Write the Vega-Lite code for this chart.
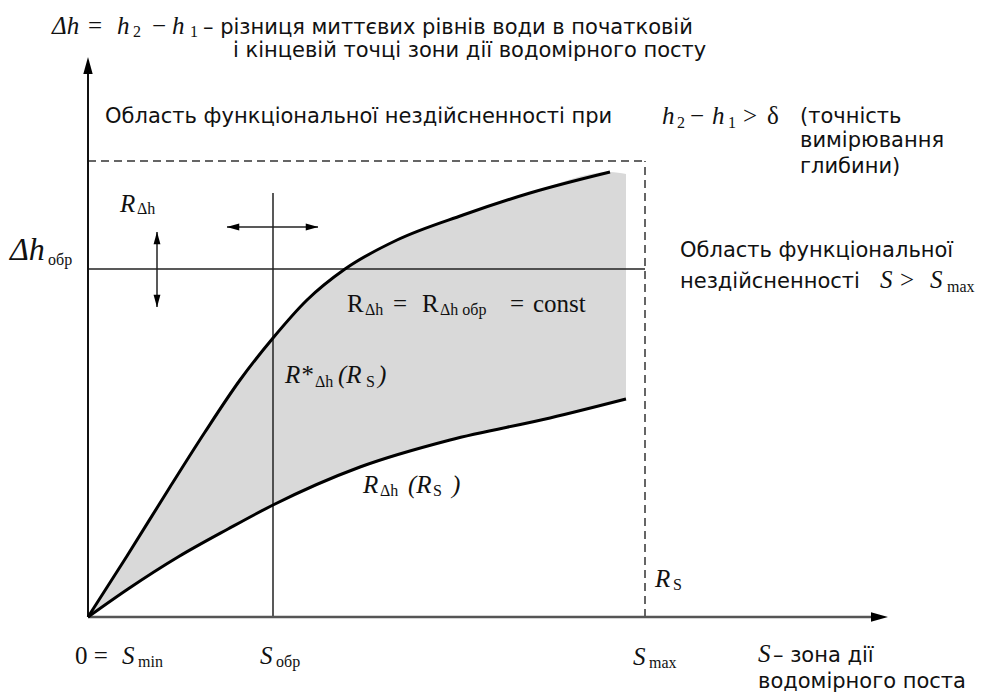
{
  "$schema": "https://vega.github.io/schema/vega-lite/v6.json",
  "width": 997,
  "height": 695,
  "padding": 0,
  "autosize": {"type": "fit", "contains": "padding"},
  "background": "white",
  "config": {"view": {"stroke": null}},
  "datasets": {
    "band": [
      {"x": 0, "y": 0, "y2": 0}, {"x": 39, "y": 61, "y2": 27}, {"x": 82, "y": 130, "y2": 55},
      {"x": 117, "y": 185, "y2": 75}, {"x": 152, "y": 237, "y2": 94}, {"x": 185, "y": 279, "y2": 112},
      {"x": 219, "y": 317, "y2": 127}, {"x": 257, "y": 348, "y2": 143}, {"x": 309, "y": 377, "y2": 161},
      {"x": 375, "y": 402, "y2": 180}, {"x": 442, "y": 424, "y2": 195}, {"x": 522, "y": 445, "y2": 214},
      {"x": 538, "y": 443, "y2": 218}
    ],
    "upper": [
      {"x": 0, "y": 0}, {"x": 39, "y": 61}, {"x": 82, "y": 130}, {"x": 117, "y": 185}, {"x": 152, "y": 237},
      {"x": 185, "y": 279}, {"x": 219, "y": 317}, {"x": 257, "y": 348}, {"x": 309, "y": 377},
      {"x": 375, "y": 402}, {"x": 442, "y": 424}, {"x": 522, "y": 445}
    ],
    "lower": [
      {"x": 0, "y": 0}, {"x": 40, "y": 28}, {"x": 90, "y": 60}, {"x": 140, "y": 88}, {"x": 185, "y": 112},
      {"x": 272, "y": 150}, {"x": 362, "y": 177}, {"x": 462, "y": 199}, {"x": 538, "y": 218}
    ],
    "axisY": [{"x": 0, "y": 0, "x2": 0, "y2": 548}],
    "axisX": [{"x": 0, "y": 0, "x2": 784, "y2": 0}],
    "guides": [
      {"x": 0, "y": 348, "x2": 557, "y2": 348},
      {"x": 185, "y": 0, "x2": 185, "y2": 424},
      {"x": 69, "y": 310, "x2": 69, "y2": 385},
      {"x": 139, "y": 390, "x2": 230, "y2": 390}
    ],
    "dashed": [
      {"x": 0, "y": 456, "x2": 557, "y2": 456},
      {"x": 557, "y": 0, "x2": 557, "y2": 456}
    ],
    "bigHeads": [
      {"x": 0, "y": 551.5, "dir": 0},
      {"x": 791.5, "y": 0, "dir": 90}
    ],
    "smallHeads": [
      {"x": 69, "y": 379, "dir": 0},
      {"x": 69, "y": 316, "dir": 180},
      {"x": 145, "y": 390, "dir": 270},
      {"x": 224, "y": 390, "dir": 90}
    ],
    "italicLarge": [
      {"x": -78, "y": 357, "text": "Δh"}
    ],
    "italic": [
      {"x": -36, "y": 583, "text": "Δh"},
      {"x": 29, "y": 583, "text": "h"},
      {"x": 84, "y": 583, "text": "h"},
      {"x": 574, "y": 493, "text": "h"},
      {"x": 624, "y": 493, "text": "h"},
      {"x": 32, "y": 405, "text": "R"},
      {"x": 792, "y": 329, "text": "S"},
      {"x": 842, "y": 329, "text": "S"},
      {"x": 197, "y": 234, "text": "R*"},
      {"x": 250, "y": 234, "text": "(R"},
      {"x": 290, "y": 234, "text": ")"},
      {"x": 275, "y": 124, "text": "R"},
      {"x": 320, "y": 124, "text": "(R"},
      {"x": 364, "y": 124, "text": ")"},
      {"x": 567, "y": 30, "text": "R"},
      {"x": 34, "y": -47, "text": "S"},
      {"x": 172, "y": -47, "text": "S"},
      {"x": 545, "y": -48, "text": "S"},
      {"x": 670, "y": -45, "text": "S"}
    ],
    "upright": [
      {"x": 0, "y": 583, "text": "="},
      {"x": 64, "y": 583, "text": "−"},
      {"x": 602, "y": 493, "text": "−"},
      {"x": 655, "y": 493, "text": ">"},
      {"x": 679, "y": 493, "text": "δ"},
      {"x": 812, "y": 329, "text": ">"},
      {"x": 259, "y": 305, "text": "R"},
      {"x": 305, "y": 305, "text": "="},
      {"x": 334, "y": 305, "text": "R"},
      {"x": 422, "y": 305, "text": "="},
      {"x": 445, "y": 305, "text": "const"},
      {"x": -13, "y": -47, "text": "0 ="}
    ],
    "subs": [
      {"x": 45, "y": 580, "text": "2"},
      {"x": 102, "y": 580, "text": "1"},
      {"x": 589, "y": 489, "text": "2"},
      {"x": 640, "y": 489, "text": "1"},
      {"x": -40, "y": 352, "text": "обр"},
      {"x": 49, "y": 403, "text": "Δh"},
      {"x": 859, "y": 325, "text": "max"},
      {"x": 277, "y": 302, "text": "Δh"},
      {"x": 352, "y": 302, "text": "Δh обр"},
      {"x": 227, "y": 230, "text": "Δh"},
      {"x": 278, "y": 230, "text": "S"},
      {"x": 292, "y": 121, "text": "Δh"},
      {"x": 345, "y": 121, "text": "S"},
      {"x": 585, "y": 27, "text": "S"},
      {"x": 50, "y": -50, "text": "min"},
      {"x": 188, "y": -50, "text": "обр"},
      {"x": 561, "y": -51, "text": "max"}
    ],
    "body": [
      {"x": 115, "y": 583, "text": "– різниця миттєвих рівнів води в початковій"},
      {"x": 145, "y": 560, "text": "і кінцевій точці зони дії водомірного посту"},
      {"x": 17, "y": 494, "text": "Область функціональної нездійсненності при"},
      {"x": 712, "y": 494, "text": "(точність"},
      {"x": 712, "y": 470, "text": "вимірювання"},
      {"x": 712, "y": 444, "text": "глибини)"},
      {"x": 592, "y": 360, "text": "Область функціональної"},
      {"x": 592, "y": 329, "text": "нездійсненності"},
      {"x": 685, "y": -45, "text": "– зона дії"},
      {"x": 670, "y": -71, "text": "водомірного поста"}
    ]
  },
  "encoding": {
    "x": {"field": "x", "type": "quantitative", "scale": {"domain": [-88, 909], "nice": false, "zero": false}, "axis": null},
    "y": {"field": "y", "type": "quantitative", "scale": {"domain": [-78, 617], "nice": false, "zero": false}, "axis": null}
  },
  "layer": [
    {
      "data": {"name": "band"},
      "mark": {"type": "area", "color": "#d9d9d9", "interpolate": "monotone"},
      "encoding": {"y2": {"field": "y2"}}
    },
    {
      "data": {"name": "dashed"},
      "mark": {"type": "rule", "color": "#333333", "strokeWidth": 1.5, "strokeDash": [8, 5]},
      "encoding": {"x2": {"field": "x2"}, "y2": {"field": "y2"}}
    },
    {
      "data": {"name": "guides"},
      "mark": {"type": "rule", "color": "#222222", "strokeWidth": 1.5},
      "encoding": {"x2": {"field": "x2"}, "y2": {"field": "y2"}}
    },
    {
      "data": {"name": "axisY"},
      "mark": {"type": "rule", "color": "#111111", "strokeWidth": 2},
      "encoding": {"x2": {"field": "x2"}, "y2": {"field": "y2"}}
    },
    {
      "data": {"name": "axisX"},
      "mark": {"type": "rule", "color": "#555555", "strokeWidth": 2.6},
      "encoding": {"x2": {"field": "x2"}, "y2": {"field": "y2"}}
    },
    {
      "data": {"name": "upper"},
      "mark": {"type": "line", "color": "#000000", "strokeWidth": 3, "interpolate": "monotone"}
    },
    {
      "data": {"name": "lower"},
      "mark": {"type": "line", "color": "#000000", "strokeWidth": 3, "interpolate": "monotone"}
    },
    {
      "data": {"name": "bigHeads"},
      "mark": {"type": "point", "shape": "M0,-1L0.55,1L-0.55,1Z", "filled": true, "color": "#000000", "opacity": 1, "size": 289, "strokeWidth": 0},
      "encoding": {"angle": {"field": "dir", "type": "quantitative", "scale": null}}
    },
    {
      "data": {"name": "smallHeads"},
      "mark": {"type": "point", "shape": "M0,-1L0.55,1L-0.55,1Z", "filled": true, "color": "#000000", "opacity": 1, "size": 156, "strokeWidth": 0},
      "encoding": {"angle": {"field": "dir", "type": "quantitative", "scale": null}}
    },
    {
      "data": {"name": "italicLarge"},
      "mark": {"type": "text", "align": "left", "baseline": "alphabetic", "font": "Liberation Serif", "fontStyle": "italic", "fontSize": 32, "color": "#111111"},
      "encoding": {"text": {"field": "text"}}
    },
    {
      "data": {"name": "italic"},
      "mark": {"type": "text", "align": "left", "baseline": "alphabetic", "font": "Liberation Serif", "fontStyle": "italic", "fontSize": 25, "color": "#111111"},
      "encoding": {"text": {"field": "text"}}
    },
    {
      "data": {"name": "upright"},
      "mark": {"type": "text", "align": "left", "baseline": "alphabetic", "font": "Liberation Serif", "fontSize": 25, "color": "#111111"},
      "encoding": {"text": {"field": "text"}}
    },
    {
      "data": {"name": "subs"},
      "mark": {"type": "text", "align": "left", "baseline": "alphabetic", "font": "Liberation Serif", "fontSize": 16, "color": "#111111"},
      "encoding": {"text": {"field": "text"}}
    },
    {
      "data": {"name": "body"},
      "mark": {"type": "text", "align": "left", "baseline": "alphabetic", "font": "DejaVu Sans", "fontSize": 21, "color": "#111111"},
      "encoding": {"text": {"field": "text"}}
    }
  ]
}
